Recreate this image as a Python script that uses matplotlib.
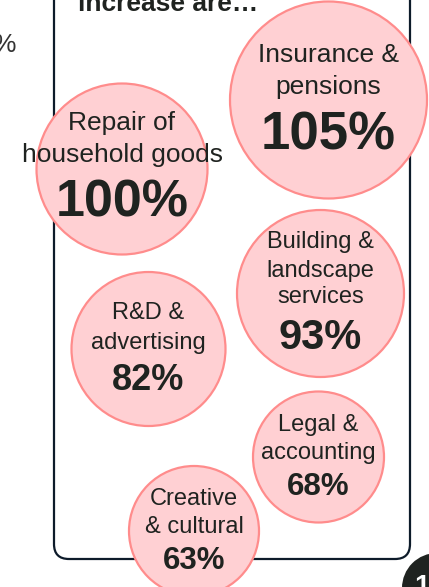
import matplotlib.pyplot as plt
from matplotlib.patches import Circle, FancyBboxPatch

# Dados: setores e aumento percentual
sectors = [
    ['Insurance &', 'pensions'],
    ['Repair of', 'household goods'],
    ['Building &', 'landscape', 'services'],
    ['R&D &', 'advertising'],
    ['Legal &', 'accounting'],
    ['Creative', '& cultural'],
]
increase = [105, 100, 93, 82, 68, 63]

# Layout (pixels): centro e raio de cada bolha, posicao y de cada linha
centers = [(328.5, 100), (122, 169), (320.5, 293.5), (148.5, 349), (318.5, 457), (194, 531)]
radii = [98.5, 85.5, 83.5, 77, 65.5, 65]
label_y = [[55, 87], [123, 155], [242, 271, 297], [313, 343], [425, 453], [499, 527]]
value_y = [135, 203, 338, 380, 487, 561]
label_size = [19, 19, 17, 17, 17, 17]
value_size = [38, 37.5, 30, 26, 22.5, 22.5]

FILL = '#ffd0d3'
EDGE = '#ff8c8c'
TEXT = '#1f2320'
plt.rcParams['font.family'] = ['Liberation Sans', 'DejaVu Sans']

fig = plt.figure(figsize=(4.29, 5.87), dpi=100)
ax = fig.add_axes([0, 0, 1, 1])
ax.set_xlim(0, 429)
ax.set_ylim(587, 0)
ax.axis('off')

# Caixa arredondada
box = FancyBboxPatch((54, -40), 356, 599, boxstyle='round,pad=0,rounding_size=15',
                     facecolor='white', edgecolor='#0d1b2a', linewidth=1.6, zorder=1)
ax.add_patch(box)

ax.text(78, 11, 'increase are\u2026', fontsize=19, fontweight='bold', color=TEXT,
        ha='left', va='baseline', zorder=5)
ax.text(17, 45, '%', fontsize=19, color='#333333', ha='right', va='center')

for i, lines in enumerate(sectors):
    cx, cy = centers[i]
    ax.add_patch(Circle((cx, cy), radii[i], facecolor=FILL, edgecolor=EDGE,
                        linewidth=1.6, zorder=2))
    for line, y in zip(lines, label_y[i]):
        ax.text(cx, y, line, fontsize=label_size[i], color=TEXT,
                ha='center', va='center', zorder=3)
    ax.text(cx, value_y[i], f'{increase[i]}%', fontsize=value_size[i], fontweight='bold',
            color=TEXT, ha='center', va='center', zorder=3)

# Marcador de pagina (canto inferior direito)
ax.add_patch(Circle((437, 588), 35, facecolor='#1f2320', edgecolor='none', zorder=4))
ax.text(414, 574, '1', fontsize=20, fontweight='bold', color='white',
        ha='left', va='top', zorder=5)

fig.savefig('out.png', dpi=100)
